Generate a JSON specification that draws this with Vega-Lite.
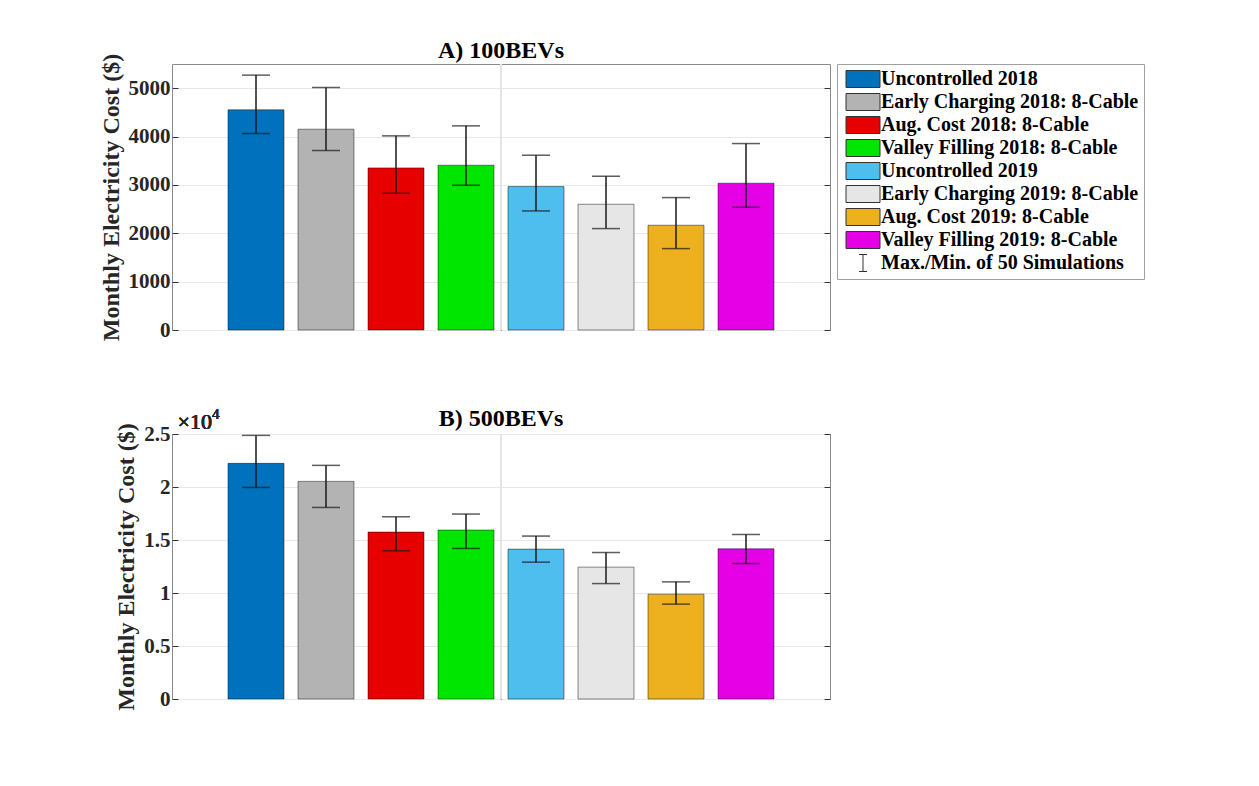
{
  "$schema": "https://vega.github.io/schema/vega-lite/v6.json",
  "background": "white",
  "padding": {"left": 98, "top": 38, "right": 5, "bottom": 5},
  "autosize": {"type": "pad"},
  "spacing": 64,
  "config": {
    "font": "Liberation Serif",
    "view": {"stroke": "#8a8a8a", "strokeWidth": 1},
    "title": {"font": "Liberation Serif", "fontSize": 24, "fontWeight": "bold", "color": "#000000", "anchor": "middle"}
  },
  "resolve": {"scale": {"color": "independent", "shape": "independent", "y": "independent"}, "legend": {"color": "independent", "shape": "independent"}},
  "datasets": {
    "a": [
      {"series": "Uncontrolled 2018", "cost": 4552, "min": 4062, "max": 5270},
      {"series": "Early Charging 2018: 8-Cable", "cost": 4152, "min": 3711, "max": 5014},
      {"series": "Aug. Cost 2018: 8-Cable", "cost": 3352, "min": 2828, "max": 4014},
      {"series": "Valley Filling 2018: 8-Cable", "cost": 3407, "min": 2993, "max": 4221},
      {"series": "Uncontrolled 2019", "cost": 2966, "min": 2462, "max": 3614},
      {"series": "Early Charging 2019: 8-Cable", "cost": 2600, "min": 2097, "max": 3179},
      {"series": "Aug. Cost 2019: 8-Cable", "cost": 2166, "min": 1683, "max": 2738},
      {"series": "Valley Filling 2019: 8-Cable", "cost": 3035, "min": 2538, "max": 3855}
    ],
    "b": [
      {"series": "Uncontrolled 2018", "cost": 22230, "min": 19960, "max": 24870},
      {"series": "Early Charging 2018: 8-Cable", "cost": 20530, "min": 18070, "max": 22040},
      {"series": "Aug. Cost 2018: 8-Cable", "cost": 15750, "min": 13980, "max": 17190},
      {"series": "Valley Filling 2018: 8-Cable", "cost": 15940, "min": 14200, "max": 17450},
      {"series": "Uncontrolled 2019", "cost": 14140, "min": 12910, "max": 15370},
      {"series": "Early Charging 2019: 8-Cable", "cost": 12440, "min": 10890, "max": 13820},
      {"series": "Aug. Cost 2019: 8-Cable", "cost": 9890, "min": 8950, "max": 11050},
      {"series": "Valley Filling 2019: 8-Cable", "cost": 14170, "min": 12780, "max": 15520}
    ]
  },
  "vconcat": [
    {
      "width": 658,
      "height": 266,
      "title": {"text": "A) 100BEVs", "offset": -10},
      "data": {"name": "a"},
      "resolve": {"scale": {"x": "independent"}},
      "layer": [
        {
          "mark": {"type": "rule", "color": "#e4e4e4", "strokeWidth": 1},
          "encoding": {
            "x": {"datum": 1, "type": "quantitative", "scale": {"domain": [0, 2]},
                  "axis": {"values": [1], "labels": false, "grid": false, "domain": false, "ticks": true, "tickSize": -6, "tickColor": "#333333", "title": null}}
          }
        },
        {
          "resolve": {"axis": {"y": "independent"}},
          "layer": [
            {
              "mark": {"type": "bar", "stroke": "#000000", "strokeOpacity": 0.45, "strokeWidth": 1},
              "encoding": {
                "x": {"field": "series", "type": "nominal", "sort": null, "scale": {"paddingInner": 0.2, "paddingOuter": 0.8}, "axis": null},
                "y": {"field": "cost", "type": "quantitative", "scale": {"domain": [0, 5500], "nice": false},
                      "axis": {"orient": "left", "values": [0, 1000, 2000, 3000, 4000, 5000], "format": "d", "grid": true, "gridColor": "#e8e8e8", "domain": false,
                               "tickSize": -6, "tickColor": "#333333", "labelFont": "Liberation Serif", "labelFontWeight": "bold", "labelFontSize": 21,
                               "labelColor": "#262626", "labelPadding": 8, "title": "Monthly Electricity Cost ($)", "titleFont": "Liberation Serif",
                               "titleFontSize": 24, "titleFontWeight": "bold", "titleColor": "#262626", "titlePadding": 5}},
                "color": {"field": "series", "type": "nominal", "sort": null,
                          "scale": {"domain": ["Uncontrolled 2018", "Early Charging 2018: 8-Cable", "Aug. Cost 2018: 8-Cable", "Valley Filling 2018: 8-Cable", "Uncontrolled 2019", "Early Charging 2019: 8-Cable", "Aug. Cost 2019: 8-Cable", "Valley Filling 2019: 8-Cable", "Max./Min. of 50 Simulations"],
                                    "range": ["#0072bd", "#b3b3b3", "#e60000", "#00e600", "#4dbeee", "#e6e6e6", "#edb120", "#e600e6", "#000000"]},
                          "legend": {"title": null, "orient": "right", "offset": 6, "padding": 5, "strokeColor": "#a0a0a0", "fillColor": "#ffffff",
                                     "labelFont": "Liberation Serif", "labelFontWeight": "bold", "labelFontSize": 20, "labelColor": "#000000", "labelOffset": 19,
                                     "rowPadding": 1, "symbolSize": 289, "symbolOpacity": 1, "symbolStrokeWidth": 1, "symbolStrokeColor": "#333333", "labelLimit": 400,
                                     "encode": {"symbols": {"update": {"stroke": {"value": "#333333"}, "strokeWidth": {"value": 1}, "opacity": {"value": 1}, "xc": {"value": 21}}}}}}
              }
            },
            {
              "mark": {"type": "rule", "color": "#1a1a1a", "strokeWidth": 1.5},
              "encoding": {
                "x": {"field": "series", "type": "nominal", "sort": null, "scale": {"paddingInner": 0.2, "paddingOuter": 0.8}, "axis": null},
                "y": {"field": "min", "type": "quantitative",
                      "axis": {"orient": "right", "values": [0, 1000, 2000, 3000, 4000, 5000], "labels": false, "grid": false, "domain": false, "tickSize": -6, "tickColor": "#333333", "title": null}},
                "y2": {"field": "max"}
              }
            },
            {
              "mark": {"type": "tick", "color": "#1a1a1a", "thickness": 1.5, "size": 28},
              "encoding": {
                "x": {"field": "series", "type": "nominal", "sort": null, "scale": {"paddingInner": 0.2, "paddingOuter": 0.8}, "axis": null},
                "y": {"field": "max", "type": "quantitative", "axis": null}
              }
            },
            {
              "mark": {"type": "tick", "color": "#1a1a1a", "thickness": 1.5, "size": 28},
              "encoding": {
                "x": {"field": "series", "type": "nominal", "sort": null, "scale": {"paddingInner": 0.2, "paddingOuter": 0.8}, "axis": null},
                "y": {"field": "min", "type": "quantitative", "axis": null}
              }
            },
            {
              "mark": {"type": "point", "filled": true, "opacity": 0},
              "encoding": {
                "x": {"field": "series", "type": "nominal", "sort": null, "scale": {"paddingInner": 0.2, "paddingOuter": 0.8}, "axis": null},
                "y": {"field": "cost", "type": "quantitative", "axis": null},
                "color": {"field": "series", "type": "nominal", "sort": null,
                          "legend": {"title": null, "orient": "right", "offset": 6, "padding": 5, "strokeColor": "#a0a0a0", "fillColor": "#ffffff",
                                     "labelFont": "Liberation Serif", "labelFontWeight": "bold", "labelFontSize": 20, "labelColor": "#000000", "labelOffset": 19,
                                     "rowPadding": 1, "symbolSize": 289, "symbolOpacity": 1, "symbolStrokeWidth": 1, "symbolStrokeColor": "#333333", "labelLimit": 400,
                                     "encode": {"symbols": {"update": {"stroke": {"value": "#333333"}, "strokeWidth": {"value": 1}, "opacity": {"value": 1}, "xc": {"value": 21}}}}}},
                "shape": {"field": "series", "type": "nominal", "sort": null,
                          "scale": {"domain": ["Uncontrolled 2018", "Early Charging 2018: 8-Cable", "Aug. Cost 2018: 8-Cable", "Valley Filling 2018: 8-Cable", "Uncontrolled 2019", "Early Charging 2019: 8-Cable", "Aug. Cost 2019: 8-Cable", "Valley Filling 2019: 8-Cable", "Max./Min. of 50 Simulations"],
                                    "range": ["M-2,-1H2V1H-2Z", "M-2,-1H2V1H-2Z", "M-2,-1H2V1H-2Z", "M-2,-1H2V1H-2Z", "M-2,-1H2V1H-2Z", "M-2,-1H2V1H-2Z", "M-2,-1H2V1H-2Z", "M-2,-1H2V1H-2Z", "M-0.47,-1H0.47M0,-1V1M-0.47,1H0.47"]},
                          "legend": {"title": null, "orient": "right", "offset": 6, "padding": 5, "strokeColor": "#a0a0a0", "fillColor": "#ffffff",
                                     "labelFont": "Liberation Serif", "labelFontWeight": "bold", "labelFontSize": 20, "labelColor": "#000000", "labelOffset": 19,
                                     "rowPadding": 1, "symbolSize": 289, "symbolOpacity": 1, "symbolStrokeWidth": 1, "symbolStrokeColor": "#333333", "labelLimit": 400,
                                     "encode": {"symbols": {"update": {"stroke": {"value": "#333333"}, "strokeWidth": {"value": 1}, "opacity": {"value": 1}, "xc": {"value": 21}}}}}}
              }
            }
          ]
        }
      ]
    },
    {
      "width": 658,
      "height": 265,
      "title": {"text": "B) 500BEVs", "offset": -24},
      "data": {"name": "b"},
      "resolve": {"scale": {"x": "independent"}},
      "layer": [
        {
          "mark": {"type": "rule", "color": "#e4e4e4", "strokeWidth": 1},
          "encoding": {
            "x": {"datum": 1, "type": "quantitative", "scale": {"domain": [0, 2]},
                  "axis": {"values": [1], "labels": false, "grid": false, "domain": false, "ticks": true, "tickSize": -6, "tickColor": "#333333", "title": null}}
          }
        },
        {
          "resolve": {"axis": {"y": "independent"}},
          "layer": [
            {
              "mark": {"type": "bar", "stroke": "#000000", "strokeOpacity": 0.45, "strokeWidth": 1},
              "encoding": {
                "x": {"field": "series", "type": "nominal", "sort": null, "scale": {"paddingInner": 0.2, "paddingOuter": 0.8}, "axis": null},
                "y": {"field": "cost", "type": "quantitative", "scale": {"domain": [0, 25000], "nice": false},
                      "axis": {"orient": "left", "values": [0, 5000, 10000, 15000, 20000, 25000], "labelExpr": "datum.value / 10000", "grid": true, "gridColor": "#e8e8e8", "domain": false,
                               "tickSize": -6, "tickColor": "#333333", "labelFont": "Liberation Serif", "labelFontWeight": "bold", "labelFontSize": 21,
                               "labelColor": "#262626", "labelPadding": 8, "title": "Monthly Electricity Cost ($)", "titleFont": "Liberation Serif",
                               "titleFontSize": 24, "titleFontWeight": "bold", "titleColor": "#262626", "titlePadding": 5}},
                "color": {"field": "series", "type": "nominal", "sort": null,
                          "scale": {"domain": ["Uncontrolled 2018", "Early Charging 2018: 8-Cable", "Aug. Cost 2018: 8-Cable", "Valley Filling 2018: 8-Cable", "Uncontrolled 2019", "Early Charging 2019: 8-Cable", "Aug. Cost 2019: 8-Cable", "Valley Filling 2019: 8-Cable"],
                                    "range": ["#0072bd", "#b3b3b3", "#e60000", "#00e600", "#4dbeee", "#e6e6e6", "#edb120", "#e600e6"]},
                          "legend": null}
              }
            },
            {
              "mark": {"type": "rule", "color": "#1a1a1a", "strokeWidth": 1.5},
              "encoding": {
                "x": {"field": "series", "type": "nominal", "sort": null, "scale": {"paddingInner": 0.2, "paddingOuter": 0.8}, "axis": null},
                "y": {"field": "min", "type": "quantitative",
                      "axis": {"orient": "right", "values": [0, 5000, 10000, 15000, 20000, 25000], "labels": false, "grid": false, "domain": false, "tickSize": -6, "tickColor": "#333333", "title": null}},
                "y2": {"field": "max"}
              }
            },
            {
              "mark": {"type": "tick", "color": "#1a1a1a", "thickness": 1.5, "size": 28},
              "encoding": {
                "x": {"field": "series", "type": "nominal", "sort": null, "scale": {"paddingInner": 0.2, "paddingOuter": 0.8}, "axis": null},
                "y": {"field": "max", "type": "quantitative", "axis": null}
              }
            },
            {
              "mark": {"type": "tick", "color": "#1a1a1a", "thickness": 1.5, "size": 28},
              "encoding": {
                "x": {"field": "series", "type": "nominal", "sort": null, "scale": {"paddingInner": 0.2, "paddingOuter": 0.8}, "axis": null},
                "y": {"field": "min", "type": "quantitative", "axis": null}
              }
            },
            {
              "mark": {"type": "text", "font": "Liberation Serif", "fontSize": 22, "fontWeight": "normal", "color": "#262626", "align": "right", "baseline": "alphabetic", "dx": -16, "dy": -5},
              "encoding": {
                "x": {"datum": "Uncontrolled 2018", "type": "nominal", "bandPosition": 0, "scale": {"paddingInner": 0.2, "paddingOuter": 0.8}, "axis": null},
                "y": {"datum": 25000, "type": "quantitative", "axis": null},
                "text": {"value": "×10"}
              }
            },
            {
              "mark": {"type": "text", "font": "Liberation Serif", "fontSize": 15, "fontWeight": "normal", "color": "#262626", "align": "left", "baseline": "alphabetic", "dx": -16, "dy": -15},
              "encoding": {
                "x": {"datum": "Uncontrolled 2018", "type": "nominal", "bandPosition": 0, "scale": {"paddingInner": 0.2, "paddingOuter": 0.8}, "axis": null},
                "y": {"datum": 25000, "type": "quantitative", "axis": null},
                "text": {"value": "4"}
              }
            }
          ]
        }
      ]
    }
  ]
}
